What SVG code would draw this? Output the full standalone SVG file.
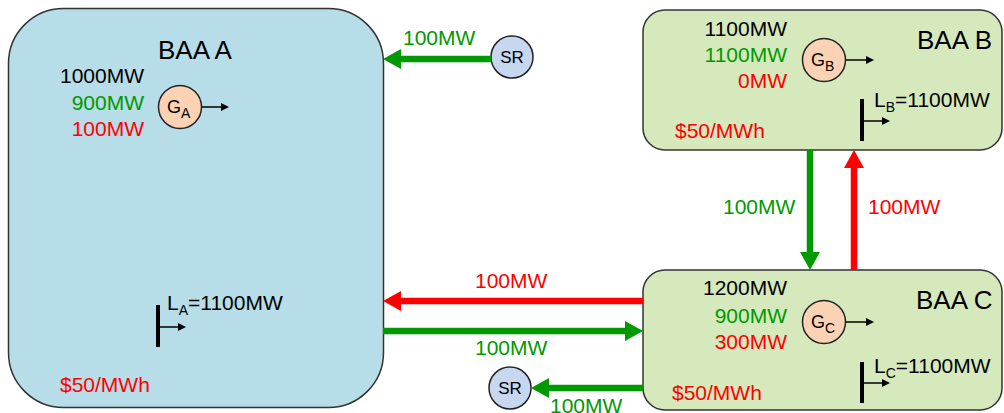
<svg xmlns="http://www.w3.org/2000/svg" width="1004" height="413" viewBox="0 0 1004 413">
<style>
text{font-family:"Liberation Sans",Arial,sans-serif;font-size:21px;fill:#000}
.title{font-size:26px}
.g{fill:#009900}
.r{fill:#ff0000}
.end{text-anchor:end}
.box{stroke:#333;stroke-width:1.5}
.gen{fill:#fbd3b4;stroke:#222;stroke-width:1.5}
.sr{fill:#c6d7ef;stroke:#222;stroke-width:1.5}
.thin{stroke:#000;stroke-width:1.5;fill:none}
.bar{stroke:#000;stroke-width:4}
.fg{stroke:#009900;stroke-width:6.5;fill:none}
.fr{stroke:#ff0000;stroke-width:6.5;fill:none}
.sub{font-size:14px}
.gl{font-size:18px}
</style>
<defs>
<marker id="hg" viewBox="0 0 18 20" refX="0" refY="10" markerWidth="18" markerHeight="20" markerUnits="userSpaceOnUse" orient="auto"><path d="M0,0 L18,10 L0,20 z" fill="#009900"/></marker>
<marker id="hr" viewBox="0 0 18 20" refX="0" refY="10" markerWidth="18" markerHeight="20" markerUnits="userSpaceOnUse" orient="auto"><path d="M0,0 L18,10 L0,20 z" fill="#ff0000"/></marker>
<marker id="hk" viewBox="0 0 8 8" refX="0" refY="4" markerWidth="8" markerHeight="8" markerUnits="userSpaceOnUse" orient="auto"><path d="M0,0 L8,4 L0,8 z" fill="#000"/></marker>
</defs>

<g id="baaA">
<rect class="box" x="8.5" y="8.5" width="375" height="399" rx="55" fill="#b7dde8"/>
<text class="title" x="158" y="59">BAA A</text>
<text class="end" x="144" y="83">1000MW</text>
<text class="end g" x="144" y="110">900MW</text>
<text class="end r" x="144" y="136">100MW</text>
<circle class="gen" cx="180" cy="107" r="21.5"/>
<text class="gl" x="167" y="113">G<tspan class="sub" dy="5">A</tspan></text>
<line class="thin" x1="202" y1="107" x2="221" y2="107" marker-end="url(#hk)"/>
<line class="bar" x1="158" y1="305" x2="158" y2="347"/>
<line class="thin" x1="158" y1="327" x2="178" y2="327" marker-end="url(#hk)"/>
<text x="167" y="310">L<tspan class="sub" dy="5">A</tspan><tspan dy="-5">=1100MW</tspan></text>
<text class="r" x="60" y="392">$50/MWh</text>
</g>

<g id="baaB">
<rect class="box" x="643" y="10" width="359" height="140" rx="22" fill="#d5e9bd"/>
<text class="title" x="917" y="49">BAA B</text>
<text class="end" x="787" y="36">1100MW</text>
<text class="end g" x="787" y="62">1100MW</text>
<text class="end r" x="787" y="88">0MW</text>
<circle class="gen" cx="824" cy="60" r="21.5"/>
<text class="gl" x="811" y="66">G<tspan class="sub" dy="5">B</tspan></text>
<line class="thin" x1="846" y1="60" x2="866" y2="60" marker-end="url(#hk)"/>
<line class="bar" x1="862" y1="99" x2="862" y2="141"/>
<line class="thin" x1="862" y1="121" x2="882" y2="121" marker-end="url(#hk)"/>
<text x="874" y="107">L<tspan class="sub" dy="5">B</tspan><tspan dy="-5">=1100MW</tspan></text>
<text class="r" x="675" y="138">$50/MWh</text>
</g>

<g id="baaC">
<rect class="box" x="643" y="270" width="359" height="140" rx="22" fill="#d5e9bd"/>
<text class="title" x="916" y="309">BAA C</text>
<text class="end" x="787" y="295">1200MW</text>
<text class="end g" x="787" y="323">900MW</text>
<text class="end r" x="787" y="349">300MW</text>
<circle class="gen" cx="824" cy="322" r="21.5"/>
<text class="gl" x="811" y="328">G<tspan class="sub" dy="5">C</tspan></text>
<line class="thin" x1="846" y1="322" x2="866" y2="322" marker-end="url(#hk)"/>
<line class="bar" x1="862" y1="362" x2="862" y2="403"/>
<line class="thin" x1="862" y1="383" x2="882" y2="383" marker-end="url(#hk)"/>
<text x="874" y="373">L<tspan class="sub" dy="5">C</tspan><tspan dy="-5">=1100MW</tspan></text>
<text class="r" x="672" y="400">$50/MWh</text>
</g>

<g id="srTop">
<circle class="sr" cx="512" cy="57" r="21"/>
<text x="512" y="63" text-anchor="middle" style="font-size:17px">SR</text>
</g>

<g id="srBottom">
<circle class="sr" cx="510" cy="388" r="21"/>
<text x="510" y="394" text-anchor="middle" style="font-size:17px">SR</text>
</g>

<g id="connectors">
<line class="fg" x1="491" y1="59" x2="401" y2="59" marker-end="url(#hg)"/>
<text class="g" x="403" y="45">100MW</text>
<line class="fr" x1="643" y1="301" x2="401" y2="301" marker-end="url(#hr)"/>
<text class="r" x="475" y="288">100MW</text>
<line class="fg" x1="383" y1="331" x2="625" y2="331" marker-end="url(#hg)"/>
<text class="g" x="475" y="355">100MW</text>
<line class="fg" x1="643" y1="388" x2="549" y2="388" marker-end="url(#hg)"/>
<text class="g" x="550" y="413">100MW</text>
<line class="fg" x1="810" y1="150" x2="810" y2="252" marker-end="url(#hg)"/>
<text class="g" x="723" y="214">100MW</text>
<line class="fr" x1="854" y1="270" x2="854" y2="168" marker-end="url(#hr)"/>
<text class="r" x="868" y="214">100MW</text>
</g>
</svg>
